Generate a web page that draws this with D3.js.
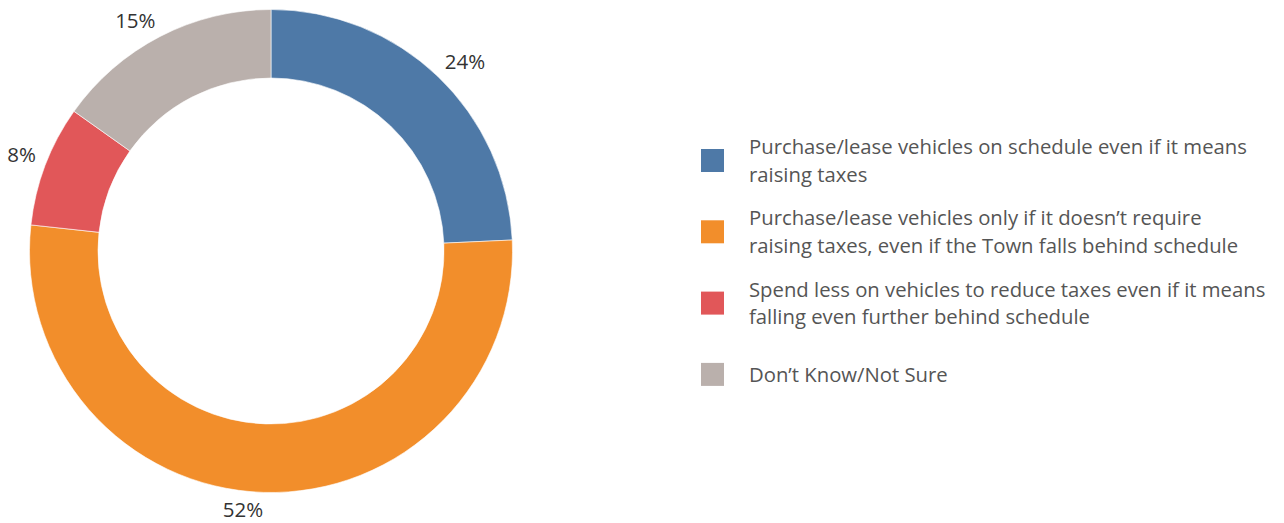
<!DOCTYPE html>
<html>
<head>
<meta charset="utf-8">
<script src="https://cdn.jsdelivr.net/npm/d3@7"></script>
<style>
  html, body { margin: 0; padding: 0; background: #fff; }
  svg { display: block; }
  text { font-family: "Open Sans", "Noto Sans", sans-serif; }
</style>
</head>
<body>
<svg id="chart" width="1284" height="523"></svg>
<script>
// ---- data ----
const categories = [
  "Purchase/lease vehicles on schedule even if it means raising taxes",
  "Purchase/lease vehicles only if it doesn\u2019t require raising taxes, even if the Town falls behind schedule",
  "Spend less on vehicles to reduce taxes even if it means falling even further behind schedule",
  "Don\u2019t Know/Not Sure"
];
const legendLines = [
  ["Purchase/lease vehicles on schedule even if it means", "raising taxes"],
  ["Purchase/lease vehicles only if it doesn\u2019t require", "raising taxes, even if the Town falls behind schedule"],
  ["Spend less on vehicles to reduce taxes even if it means", "falling even further behind schedule"],
  ["Don\u2019t Know/Not Sure"]
];
const shares = [24.3, 52.5, 8.1, 15.2];
const percentLabels = ["24%", "52%", "8%", "15%"];
const colors = ["#4e79a7", "#f28e2b", "#e15759", "#bab0ac"];

// ---- layout ----
const svg = d3.select("#chart");
const cx = 271, cy = 251;
const outerR = 241.5, innerR = 173;
const labelR = 251.5;
const pctSize = 20.5, legendSize = 20.3;

const data = categories.map((c, i) => ({ cat: c, value: shares[i], label: percentLabels[i], color: colors[i], lines: legendLines[i] }));

const pie = d3.pie().value(d => d.value).sort(null);
const arcs = pie(data);
const arc = d3.arc().innerRadius(innerR).outerRadius(outerR);
const labelArc = d3.arc().innerRadius(labelR).outerRadius(labelR);

const g = svg.append("g").attr("transform", `translate(${cx},${cy})`);
g.selectAll("path.slice").data(arcs).join("path")
  .attr("class", "slice")
  .attr("d", arc)
  .attr("fill", d => d.data.color)
  .attr("stroke", "#fff")
  .attr("stroke-width", 0.6);

const midA = d => (d.startAngle + d.endAngle) / 2;
g.selectAll("text.pct").data(arcs).join("text")
  .attr("class", "pct")
  .attr("transform", d => `translate(${labelArc.centroid(d)})`)
  .attr("text-anchor", d => Math.sin(midA(d)) >= 0 ? "start" : "end")
  .attr("dy", d => Math.cos(midA(d)) > 0 ? "0em" : "0.72em")
  .attr("font-size", pctSize)
  .attr("fill", "#333")
  .text(d => d.data.label);

// ---- legend ----
const legendX = 701, legendY0 = 149, itemStep = 71.3, sw = 23, lineH = 27.8, textX = 749;
const color = d3.scaleOrdinal().domain(categories).range(colors);
const yPos = d3.scalePoint().domain(categories).range([legendY0, legendY0 + itemStep * (categories.length - 1)]);

const lg = svg.append("g");
const items = lg.selectAll("g.item").data(data).join("g").attr("class", "item")
  .attr("transform", d => `translate(0,${yPos(d.cat)})`);
items.append("rect")
  .attr("x", legendX).attr("y", 0)
  .attr("width", sw).attr("height", sw)
  .attr("fill", d => color(d.cat));
items.append("text")
  .attr("x", textX)
  .attr("font-size", legendSize)
  .attr("fill", "#555")
  .each(function(d) {
    const n = d.lines.length;
    const t = d3.select(this);
    d.lines.forEach((ln, j) => {
      const y = sw / 2 + (j - (n - 1) / 2) * lineH;
      t.append("tspan").attr("x", textX).attr("y", y).attr("dy", "0.36em").text(ln);
    });
  });
</script>
</body>
</html>
